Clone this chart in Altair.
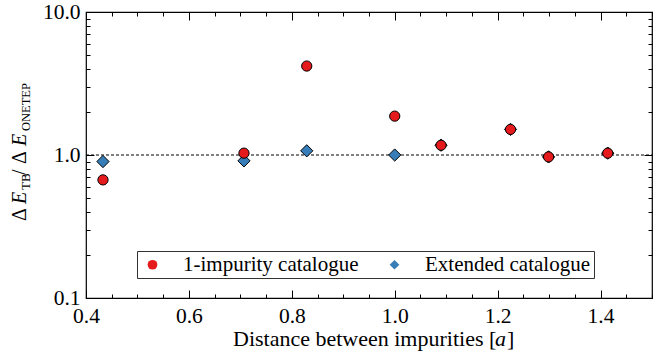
import altair as alt
import pandas as pd

# ---------------- data ----------------
distance = [0.433, 0.707, 0.829, 1.000, 1.090, 1.225, 1.299, 1.414]
ratio_one_impurity = [0.67, 1.03, 4.19, 1.87, 1.17, 1.51, 0.97, 1.03]
ratio_extended = [0.90, 0.91, 1.07, 1.00, 1.17, 1.51, 0.97, 1.03]
series_names = ["1-impurity catalogue", "Extended catalogue"]
series_colors = ["#e41a1c", "#377eb8"]
series_shapes = ["circle", "diamond"]

x_domain = [0.4, 1.5]
y_domain = [0.1, 10.0]
x_label_values = [0.4, 0.6, 0.8, 1.0, 1.2, 1.4]
x_tick_values = [0.40, 0.45, 0.50, 0.55, 0.60, 0.65, 0.70, 0.75, 0.80, 0.85,
                 0.90, 0.95, 1.00, 1.05, 1.10, 1.15, 1.20, 1.25, 1.30, 1.35,
                 1.40, 1.45, 1.50]
y_label_values = [0.1, 1.0, 10.0]
y_tick_values = [0.1, 0.2, 0.3, 0.4, 0.5, 0.6, 0.7, 0.8, 0.9,
                 1, 2, 3, 4, 5, 6, 7, 8, 9, 10]
reference_level = 1.0

df_one = pd.DataFrame({"d": distance, "r": ratio_one_impurity, "series": series_names[0]})
df_ext = pd.DataFrame({"d": distance, "r": ratio_extended, "series": series_names[1]})

# ---------------- styling ----------------
W, H = 566, 286
FONT = "Liberation Serif"
FS = 21
TICK_FS = 21.5

x_scale = alt.Scale(domain=x_domain, zero=False, nice=False)
y_scale = alt.Scale(type="log", domain=y_domain, nice=False)

x_major = "abs(datum.value*5 - round(datum.value*5)) < 0.001"
y_major = "abs(log(datum.value)/LN10 - round(log(datum.value)/LN10)) < 0.001"


def tick_axis(orient, offset, values, test):
    return alt.Axis(orient=orient, offset=offset, values=values, labels=False,
                    domain=False, grid=False, title=None, ticks=True,
                    tickColor="black", tickWidth=1,
                    tickSize={"condition": {"test": test, "value": 8}, "value": 4})


legend = alt.Legend(orient="none", legendX=51, legendY=239, direction="horizontal",
                    title=None, strokeColor="#333333", fillColor="white", padding=3,
                    labelFont=FONT, labelFontSize=FS, labelColor="black", labelLimit=400,
                    symbolSize=95, symbolStrokeColor="black", symbolStrokeWidth=1,
                    symbolOffset=2, labelOffset=20, columnPadding=23,
                    labelExpr="datum.value == 'Extended catalogue' ? datum.label + '\u2003\u2002' : datum.label")

fill_enc = alt.Fill("series:N", scale=alt.Scale(domain=series_names, range=series_colors),
                    legend=legend)
shape_enc = alt.Shape("series:N", scale=alt.Scale(domain=series_names, range=series_shapes),
                      legend=legend)

x_lab_axis = alt.Axis(orient="bottom", values=x_label_values, format=".1f",
                      ticks=False, domain=False, grid=False, title=None,
                      labelFont=FONT, labelFontSize=TICK_FS, labelColor="black",
                      labelPadding=7, labelFlush=False, labelOverlap=False)
y_lab_axis = alt.Axis(orient="left", values=y_label_values, format=".1f",
                      ticks=False, domain=False, grid=False, title=None,
                      labelFont=FONT, labelFontSize=TICK_FS, labelColor="black",
                      labelPadding=6, labelFlush=False, labelOverlap=False)

pts_ext = alt.Chart(df_ext).mark_point(filled=True, stroke="black", strokeWidth=1,
                                       opacity=1, size=150).encode(
    x=alt.X("d:Q", scale=x_scale, axis=x_lab_axis),
    y=alt.Y("r:Q", scale=y_scale, axis=y_lab_axis),
    fill=fill_enc, shape=shape_enc,
)
pts_one = alt.Chart(df_one).mark_point(filled=True, stroke="black", strokeWidth=1,
                                       opacity=1, size=105).encode(
    x=alt.X("d:Q", scale=x_scale, axis=tick_axis("top", -H, x_tick_values, x_major)),
    y=alt.Y("r:Q", scale=y_scale, axis=tick_axis("right", -W, y_tick_values, y_major)),
    fill=fill_enc, shape=shape_enc,
)

ticks_b = alt.Chart(df_one).mark_point(opacity=0).encode(
    x=alt.X("d:Q", scale=x_scale, axis=tick_axis("bottom", -H, x_tick_values, x_major)),
    y=alt.Y("r:Q", scale=y_scale, axis=tick_axis("left", -W, y_tick_values, y_major)),
)

ref_line = alt.Chart(pd.DataFrame({"k": [0]})).mark_rule(
    color="black", strokeDash=[3, 2], strokeWidth=1).encode(
    x=alt.datum(x_domain[0], type="quantitative", scale=x_scale, axis=None),
    x2=alt.datum(x_domain[1]),
    y=alt.datum(reference_level, type="quantitative", scale=y_scale, axis=None),
)

one = pd.DataFrame({"k": [0]})


def txt(s, x, y, size=FS, style="normal", angle=0, align="left"):
    return alt.Chart(one).mark_text(text=s, font=FONT, fontSize=size, fontStyle=style,
                                    angle=angle, align=align, baseline="alphabetic",
                                    color="black").encode(
        x=alt.value(x), y=alt.value(y))


# y axis title: Δ E_TB / Δ E_ONETEP (rotated, read bottom to top)
YB, YS = -60, -56
ylab = [
    txt("Δ", YB, 209, size=20, angle=270),
    txt("E", YB, 192, size=20, style="italic", angle=270),
    txt("TB", YS, 178, size=13, angle=270),
    txt("/", YB, 163, size=20, angle=270),
    txt("Δ", YB, 152, size=20, angle=270),
    txt("E", YB, 134, size=20, style="italic", angle=270),
    txt("ONETEP", YS, 119, size=12.5, angle=270),
]
# x axis title: Distance between impurities [a]
xlab = [
    txt("Distance between impurities [", 147, 333.5, size=22),
    txt("a", 409, 333.5, size=22, style="italic"),
    txt("]", 421, 333.5, size=22),
]

chart = alt.layer(ticks_b, ref_line, pts_ext, pts_one, *ylab, *xlab).resolve_axis(
    x="independent", y="independent"
).properties(
    width=W, height=H,
    autosize=alt.AutoSizeParams(type="none"),
    padding={"left": 86, "top": 12, "right": 12, "bottom": 54},
).configure_view(stroke="black", strokeWidth=1.2).configure_legend(strokeWidth=1)

chart.save("out.html", embed_options={"renderer": "svg", "actions": False})
